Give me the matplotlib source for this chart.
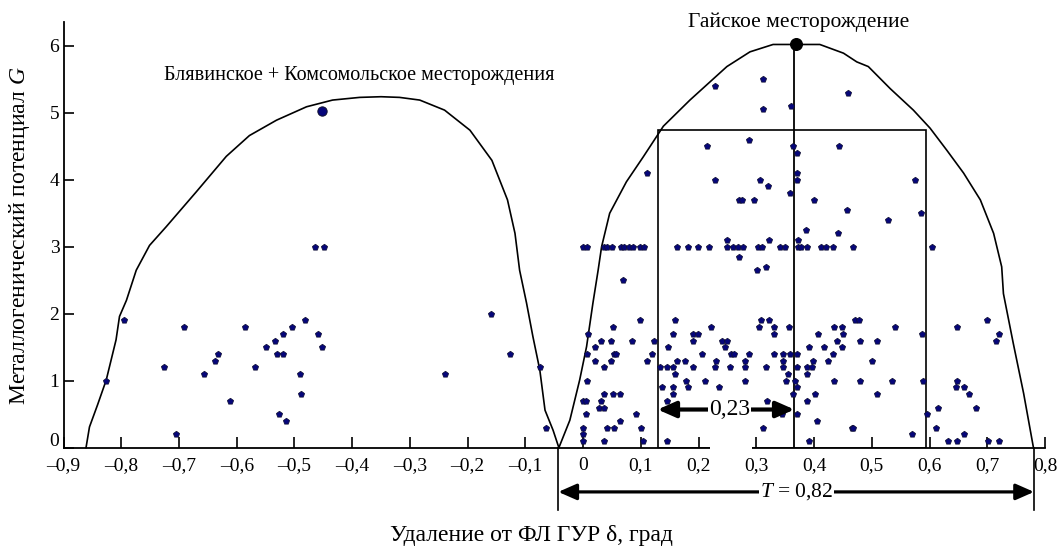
import matplotlib
matplotlib.use('Agg')
import matplotlib.pyplot as plt
import matplotlib.transforms as mtransforms
from matplotlib.patches import Rectangle
from matplotlib.ticker import FixedLocator, FuncFormatter

plt.rcParams['font.family'] = ['Liberation Serif', 'DejaVu Serif']
plt.rcParams['mathtext.fontset'] = 'custom'
plt.rcParams['mathtext.rm'] = 'Liberation Serif'
plt.rcParams['mathtext.it'] = 'Liberation Serif:italic'

# ---------------- data ----------------
x_ticks = [-0.9, -0.8, -0.7, -0.6, -0.5, -0.4, -0.3, -0.2, -0.1, 0.0, 0.1, 0.2, 0.3, 0.4, 0.5, 0.6, 0.7, 0.8]
y_ticks = [0, 1, 2, 3, 4, 5, 6]

# envelope: Blyava + Komsomolsk
left_curve_x = [-0.861, -0.855, -0.841, -0.826, -0.809, -0.803, -0.791, -0.774, -0.751, -0.722,
                -0.670, -0.618, -0.578, -0.531, -0.479, -0.434, -0.387, -0.350, -0.318, -0.283,
                -0.240, -0.196, -0.158, -0.131, -0.118, -0.110, -0.098, -0.087, -0.075, -0.066,
                -0.052, -0.042]
left_curve_y = [0.0, 0.31, 0.64, 1.01, 1.61, 1.96, 2.20, 2.65, 3.02, 3.30,
                3.82, 4.35, 4.66, 4.89, 5.09, 5.19, 5.23, 5.24, 5.23, 5.19,
                5.04, 4.74, 4.29, 3.70, 3.20, 2.65, 2.16, 1.66, 1.16, 0.56,
                0.26, 0.0]

# envelope: Gai
right_curve_x = [-0.042, -0.023, -0.006, 0.006, 0.017, 0.026, 0.032, 0.046, 0.075, 0.104,
                 0.139, 0.185, 0.249, 0.289, 0.329, 0.367, 0.410, 0.451, 0.474, 0.494,
                 0.532, 0.572, 0.601, 0.630, 0.659, 0.688, 0.711, 0.725, 0.728, 0.745,
                 0.763, 0.780]
right_curve_y = [0.0, 0.41, 1.01, 1.51, 2.16, 2.65, 3.00, 3.50, 3.97, 4.34,
                 4.80, 5.19, 5.69, 5.91, 6.02, 6.02, 6.02, 5.89, 5.76, 5.69,
                 5.36, 5.04, 4.77, 4.44, 4.10, 3.70, 3.20, 2.70, 2.30, 1.56,
                 0.81, 0.0]

# deposits of the left (Blyava + Komsomolsk) group
left_x = [-0.826, -0.796, -0.691, -0.726, -0.706, -0.656, -0.638, -0.633, -0.612, -0.586,
          -0.568, -0.549, -0.534, -0.531, -0.519, -0.519, -0.526, -0.514, -0.505, -0.490,
          -0.488, -0.482, -0.459, -0.452, -0.465, -0.448, -0.240, -0.159, -0.126, -0.075,
          -0.064]
left_y = [1.0, 1.9, 1.8, 1.2, 0.2, 1.1, 1.3, 1.4, 0.7, 1.8,
          1.2, 1.5, 1.6, 1.4, 1.4, 1.7, 0.5, 0.4, 1.8, 1.1,
          0.8, 1.9, 1.7, 1.5, 3.0, 3.0, 1.1, 2.0, 1.4, 1.2,
          0.3]
left_main_x = [-0.453]
left_main_y = [5.03]

# deposits of the Gai group, by rows of equal G
gai_row_y = [0.1, 0.2, 0.3, 0.4, 0.5, 0.6, 0.7, 0.8, 0.9, 1.0,
             1.1, 1.2, 1.3, 1.4, 1.5, 1.6, 1.7, 1.8, 1.9, 3.0, 3.1]
gai_row_x = [
    [0.000, 0.037, 0.104, 0.145, 0.392, 0.632, 0.647, 0.702, 0.721],
    [0.000, 0.569, 0.659],
    [0.000, 0.041, 0.054, 0.101, 0.311, 0.465, 0.468, 0.611],
    [0.064, 0.405],
    [0.005, 0.091, 0.345, 0.370, 0.595],
    [0.027, 0.037, 0.615, 0.680],
    [-0.001, 0.005, 0.031, 0.146, 0.319, 0.387],
    [0.037, 0.052, 0.064, 0.156, 0.363, 0.402, 0.509, 0.668],
    [0.136, 0.156, 0.182, 0.235, 0.370, 0.645, 0.659],
    [0.006, 0.179, 0.211, 0.281, 0.351, 0.367, 0.435, 0.480, 0.535, 0.589, 0.647],
    [0.159, 0.354, 0.387],
    [0.037, 0.133, 0.145, 0.156, 0.190, 0.228, 0.254, 0.281, 0.316, 0.346, 0.371, 0.387, 0.396],
    [0.020, 0.049, 0.110, 0.162, 0.177, 0.230, 0.281, 0.346, 0.398, 0.425, 0.500],
    [0.006, 0.054, 0.057, 0.119, 0.206, 0.257, 0.261, 0.287, 0.331, 0.346, 0.359, 0.371, 0.432],
    [0.020, 0.147, 0.246, 0.392, 0.418, 0.448],
    [0.031, 0.049, 0.084, 0.123, 0.190, 0.240, 0.249, 0.439, 0.480, 0.509, 0.715],
    [0.008, 0.156, 0.190, 0.199, 0.331, 0.406, 0.450, 0.587, 0.721],
    [0.052, 0.221, 0.305, 0.331, 0.357, 0.435, 0.448, 0.541, 0.647],
    [0.098, 0.159, 0.308, 0.322, 0.471, 0.477, 0.700],
    [0.000, 0.006, 0.036, 0.042, 0.050, 0.065, 0.071, 0.080, 0.087, 0.098, 0.105, 0.162,
     0.182, 0.199, 0.218, 0.250, 0.260, 0.269, 0.277, 0.303, 0.310, 0.341, 0.350, 0.373,
     0.378, 0.387, 0.412, 0.420, 0.433, 0.468, 0.604],
    [0.250, 0.322, 0.373],
]
gai_extra_x = [0.069, 0.302, 0.316, 0.270, 0.441, 0.386, 0.528, 0.585, 0.457, 0.270,
               0.276, 0.296, 0.400, 0.359, 0.320, 0.228, 0.306, 0.370, 0.575, 0.110,
               0.370, 0.370, 0.214, 0.364, 0.444, 0.287, 0.311, 0.360, 0.458, 0.228,
               0.311]
gai_extra_y = [2.5, 2.65, 2.7, 2.85, 3.2, 3.25, 3.4, 3.5, 3.55, 3.7,
               3.7, 3.7, 3.7, 3.8, 3.9, 4.0, 4.0, 4.0, 4.0, 4.1,
               4.1, 4.4, 4.5, 4.5, 4.5, 4.6, 5.05, 5.1, 5.3, 5.4,
               5.5]
gai_main_x = [0.368]
gai_main_y = [6.02]

# annotation values
box_x0, box_x1, box_top = 0.129, 0.594, 4.75
gai_axis_x = 0.366
w_arrow_y, w_label = 0.57, '0,23'
t_x0, t_x1, t_y, t_label = -0.043, 0.781, -0.66, '$T$ = 0,82'


def fmt_x(v, pos=None):
    if abs(v) < 1e-9:
        return '0'
    return ('%.1f' % v).replace('.', ',').replace('-', '\u2013')


# ---------------- figure ----------------
W, H = 1063, 551
fig = plt.figure(figsize=(W / 100, H / 100), dpi=100)
ax = fig.add_axes([63.5 / W, 1 - 447.7 / H, (1045 - 63.5) / W, (447.7 - 21.7) / H])
ax.set_xlim(-0.9, 0.8)
ax.set_ylim(0, 6.36)

for s in ['top', 'right']:
    ax.spines[s].set_visible(False)
for s in ['left', 'bottom']:
    ax.spines[s].set_linewidth(1.3)

ax.xaxis.set_major_locator(FixedLocator(x_ticks))
ax.yaxis.set_major_locator(FixedLocator(y_ticks))
ax.xaxis.set_major_formatter(FuncFormatter(fmt_x))
ax.yaxis.set_major_formatter(FuncFormatter(lambda v, p: '%d' % round(v)))
ax.tick_params(axis='x', direction='in', length=8, width=1.2, labelsize=14, pad=7)
ax.tick_params(axis='y', direction='in', length=7, width=1.2, labelsize=14, pad=3)

# raise the y "0" label a little, as in the original
t0 = ax.yaxis.get_major_ticks()[0]
t0.label1.set_transform(t0.label1.get_transform() +
                        mtransforms.ScaledTranslation(0, 6 / 72, fig.dpi_scale_trans))

# envelopes
ax.plot(left_curve_x, left_curve_y, color='black', lw=1.2, zorder=2, clip_on=False)
ax.plot(right_curve_x, right_curve_y, color='black', lw=1.2, zorder=2, clip_on=False)

# rectangle and Gai axis line
ax.add_patch(Rectangle((box_x0, 0), box_x1 - box_x0, box_top, fill=False,
                       edgecolor='black', lw=1.2, zorder=2))
ax.plot([gai_axis_x, gai_axis_x], [0, gai_main_y[0]], color='black', lw=1.3, zorder=2)

# points
gai_x = [x for row in gai_row_x for x in row] + gai_extra_x
gai_y = [y for y, row in zip(gai_row_y, gai_row_x) for _ in row] + gai_extra_y
mk = dict(marker='p', s=22, facecolor='#06067a', edgecolor='#101030', linewidths=0.5,
          zorder=3, clip_on=False)
ax.scatter(left_x, left_y, **mk)
ax.scatter(gai_x, gai_y, **mk)
ax.scatter(left_main_x, left_main_y, marker='o', s=45, facecolor='#06067a',
           edgecolor='#101030', linewidths=0.7, zorder=4)
ax.scatter(gai_main_x, gai_main_y, marker='o', s=70, facecolor='black',
           edgecolor='black', zorder=4, clip_on=False)

# white gap on the axis under the 0,23 label
ax.add_patch(Rectangle((0.2196, -0.1), 0.0728, 0.6, facecolor='white',
                       edgecolor='none', zorder=2.6, clip_on=False))

# 0,23 arrow
ax.annotate('', xy=(box_x0, w_arrow_y), xytext=(gai_axis_x, w_arrow_y),
            arrowprops=dict(arrowstyle='<|-|>,head_length=0.5,head_width=0.22',
                            mutation_scale=22, lw=3, color='black',
                            shrinkA=0, shrinkB=0), zorder=5)
ax.text(0.254, w_arrow_y, w_label, ha='center', va='center', fontsize=17, zorder=6,
        bbox=dict(facecolor='white', edgecolor='none', pad=0.5))

# T arrow
ax.plot([t_x0, t_x0], [0, -0.93], color='black', lw=1.2, clip_on=False, zorder=2)
ax.plot([t_x1, t_x1], [0, -0.93], color='black', lw=1.2, clip_on=False, zorder=2)
ax.annotate('', xy=(t_x0, t_y), xytext=(t_x1, t_y),
            arrowprops=dict(arrowstyle='<|-|>,head_length=0.5,head_width=0.22',
                            mutation_scale=22, lw=2.3, color='black',
                            shrinkA=0, shrinkB=0), annotation_clip=False, zorder=5)
ax.text(0.37, t_y, t_label, ha='center', va='center', fontsize=15.5, zorder=6,
        bbox=dict(facecolor='white', edgecolor='none', pad=0.5), clip_on=False)

# labels
ax.text(-0.387, 5.49, 'Блявинское + Комсомольское месторождения', ha='center',
        va='baseline', fontsize=14.5)
ax.text(0.373, 6.28, 'Гайское месторождение', ha='center', va='baseline', fontsize=15.5,
        clip_on=False)
fig.text(20 / W, 1 - 236 / H, 'Металлогенический потенциал $G$', rotation=90,
         ha='center', va='center', fontsize=17)
fig.text(531 / W, 1 - 535 / H, 'Удаление от ФЛ ГУР δ, град', ha='center', va='center',
         fontsize=17)

fig.savefig('out.png', dpi=100)
